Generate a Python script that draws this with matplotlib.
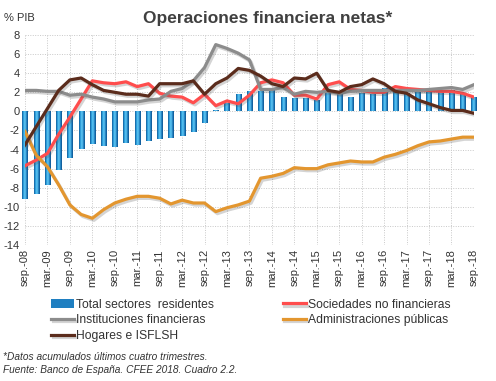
import matplotlib
matplotlib.use("Agg")
import matplotlib.pyplot as plt
import matplotlib.patheffects as pe
import numpy as np
from matplotlib.colors import LinearSegmentedColormap

plt.rcParams['font.family'] = ['Liberation Sans', 'DejaVu Sans']

quarters = ["sep.-08", "dic.-08", "mar.-09", "jun.-09", "sep.-09", "dic.-09",
            "mar.-10", "jun.-10", "sep.-10", "dic.-10", "mar.-11", "jun.-11",
            "sep.-11", "dic.-11", "mar.-12", "jun.-12", "sep.-12", "dic.-12",
            "mar.-13", "jun.-13", "sep.-13", "dic.-13", "mar.-14", "jun.-14",
            "sep.-14", "dic.-14", "mar.-15", "jun.-15", "sep.-15", "dic.-15",
            "mar.-16", "jun.-16", "sep.-16", "dic.-16", "mar.-17", "jun.-17",
            "sep.-17", "dic.-17", "mar.-18", "jun.-18", "sep.-18"]

total_sectores = [-9.2, -8.7, -7.7, -6.1, -4.9, -3.9, -3.4, -3.6, -3.7, -3.3,
                  -3.5, -3.1, -2.9, -2.8, -2.6, -2.2, -1.2, 0.1, 0.9, 1.8,
                  2.1, 2.1, 2.2, 1.5, 1.4, 1.4, 1.2, 1.9, 1.9, 1.5,
                  1.9, 1.8, 2.4, 2.3, 1.9, 2.0, 2.0, 2.1, 2.2, 1.9, 1.5]

sociedades = [-5.7, -5.1, -4.4, -2.4, -0.6, 1.3, 3.2, 3.0, 2.9, 3.1,
              2.6, 2.9, 1.9, 1.6, 1.5, 0.9, 1.8, 0.6, 1.1, 0.8,
              1.7, 3.0, 3.3, 3.0, 1.7, 1.7, 1.3, 2.8, 3.1, 2.3,
              2.2, 2.0, 2.0, 2.6, 2.4, 2.3, 2.2, 2.1, 2.1, 1.9, 1.5]

instituciones = [2.2, 2.2, 2.1, 2.1, 1.7, 1.8, 1.5, 1.3, 1.0, 1.0,
                 1.0, 1.2, 1.3, 2.1, 2.4, 3.2, 4.6, 7.0, 6.6, 6.1,
                 5.4, 2.3, 2.3, 2.5, 1.8, 2.1, 2.0, 2.1, 1.9, 2.1,
                 2.2, 2.2, 2.2, 2.2, 2.2, 2.2, 2.3, 2.4, 2.5, 2.3, 2.8]

administraciones = [-2.1, -4.6, -5.8, -7.7, -9.8, -10.8, -11.2, -10.3, -9.6, -9.2,
                    -8.9, -8.9, -9.1, -9.7, -9.3, -9.6, -9.6, -10.5, -10.1, -9.8,
                    -9.4, -7.0, -6.8, -6.5, -5.9, -6.0, -6.0, -5.6, -5.4, -5.2,
                    -5.3, -5.3, -4.8, -4.5, -4.1, -3.6, -3.2, -3.1, -2.9, -2.7, -2.7]

hogares = [-3.5, -1.6, 0.3, 2.2, 3.3, 3.5, 2.8, 2.2, 2.0, 1.8,
           1.8, 1.6, 2.9, 2.9, 2.9, 3.2, 1.8, 2.9, 3.5, 4.5,
           4.3, 3.7, 2.9, 2.6, 3.5, 3.4, 4.0, 2.2, 2.0, 2.6,
           2.8, 3.4, 2.9, 2.1, 1.9, 1.2, 0.8, 0.4, 0.1, 0.1, -0.2]

y_ticks = [8, 6, 4, 2, 0, -2, -4, -6, -8, -10, -12, -14]

fig = plt.figure(figsize=(4.96, 3.81), dpi=100)
ax = fig.add_axes([0.0504, 0.357, 0.905, 0.551])

x = np.arange(len(quarters))
bar_w = 0.45
bars = ax.bar(x, total_sectores, width=bar_w, color='#1f7fc1', zorder=2,
              label='Total sectores  residentes')

# cylinder-like gradient inside each bar
cmap = LinearSegmentedColormap.from_list('cyl', ['#0d4f8c', '#2aa6e6', '#6fd0f7', '#1f86c8', '#0b4a86'])
grad = np.linspace(0, 1, 64).reshape(1, -1)
for b in bars:
    x0 = b.get_x()
    w = b.get_width()
    y0 = b.get_y()
    h = b.get_height()
    im = ax.imshow(grad, cmap=cmap, aspect='auto', interpolation='bicubic',
                   extent=[x0, x0 + w, min(y0, y0 + h), max(y0, y0 + h)], zorder=2.1)
    im.set_clip_path(b)

shadow = [pe.SimpleLineShadow(offset=(1.2, -1.5), alpha=0.25, shadow_color='#555555'), pe.Normal()]
lw = 2.3
ax.plot(x, sociedades, color='#ff4d4d', lw=lw, zorder=3, path_effects=shadow,
        label='Sociedades no financieras', solid_joinstyle='round')
ax.plot(x, instituciones, color='#8c8c8c', lw=lw, zorder=3, path_effects=shadow,
        label='Instituciones financieras', solid_joinstyle='round')
ax.plot(x, administraciones, color='#e3962f', lw=lw, zorder=3, path_effects=shadow,
        label='Administraciones públicas', solid_joinstyle='round')
ax.plot(x, hogares, color='#5b2c1c', lw=lw, zorder=4, path_effects=shadow,
        label='Hogares e ISFLSH', solid_joinstyle='round')

ax.set_xlim(0, len(quarters) - 1)
ax.set_ylim(-14, 8)
ax.set_yticks(y_ticks)
ax.set_yticklabels([str(v) for v in y_ticks], fontsize=8, color='#333333')
ax.set_xticks(x[::2])
ax.set_xticklabels(quarters[::2], rotation=90, fontsize=8, color='#333333')
ax.tick_params(length=0, pad=3)
ax.tick_params(axis='y', pad=4)
for s in ax.spines.values():
    s.set_visible(False)
ax.grid(True, color='#c8c8c8', linestyle=(0, (1, 1.5)), linewidth=0.7, zorder=0)
ax.set_axisbelow(True)

fig.text(0.54, 0.952, 'Operaciones financiera netas*', ha='center', va='center',
         fontsize=12.5, fontweight='bold', color='#404040')
fig.text(0.008, 0.952, '% PIB', ha='left', va='center', fontsize=8, color='#333333')

h, l = ax.get_legend_handles_labels()
order = ['Total sectores  residentes', 'Instituciones financieras', 'Hogares e ISFLSH',
         'Sociedades no financieras', 'Administraciones públicas']
hd = dict(zip(l, h))
leg = fig.legend([hd[k] for k in order], order, ncol=2, loc='upper left',
                 bbox_to_anchor=(0.103, 0.216), frameon=False, fontsize=8.7,
                 handlelength=1.9, handletextpad=0.15, columnspacing=5.7,
                 labelspacing=0.3, borderaxespad=0, borderpad=0)
for t in leg.get_texts():
    t.set_color('#333333')

fig.text(0.006, 0.063, '*Datos acumulados últimos cuatro trimestres.', fontsize=7.3,
         style='italic', color='#333333', ha='left', va='center')
fig.text(0.006, 0.028, 'Fuente: Banco de España. CFEE 2018. Cuadro 2.2.', fontsize=7.3,
         style='italic', color='#333333', ha='left', va='center')

fig.savefig('out.png', dpi=100)
